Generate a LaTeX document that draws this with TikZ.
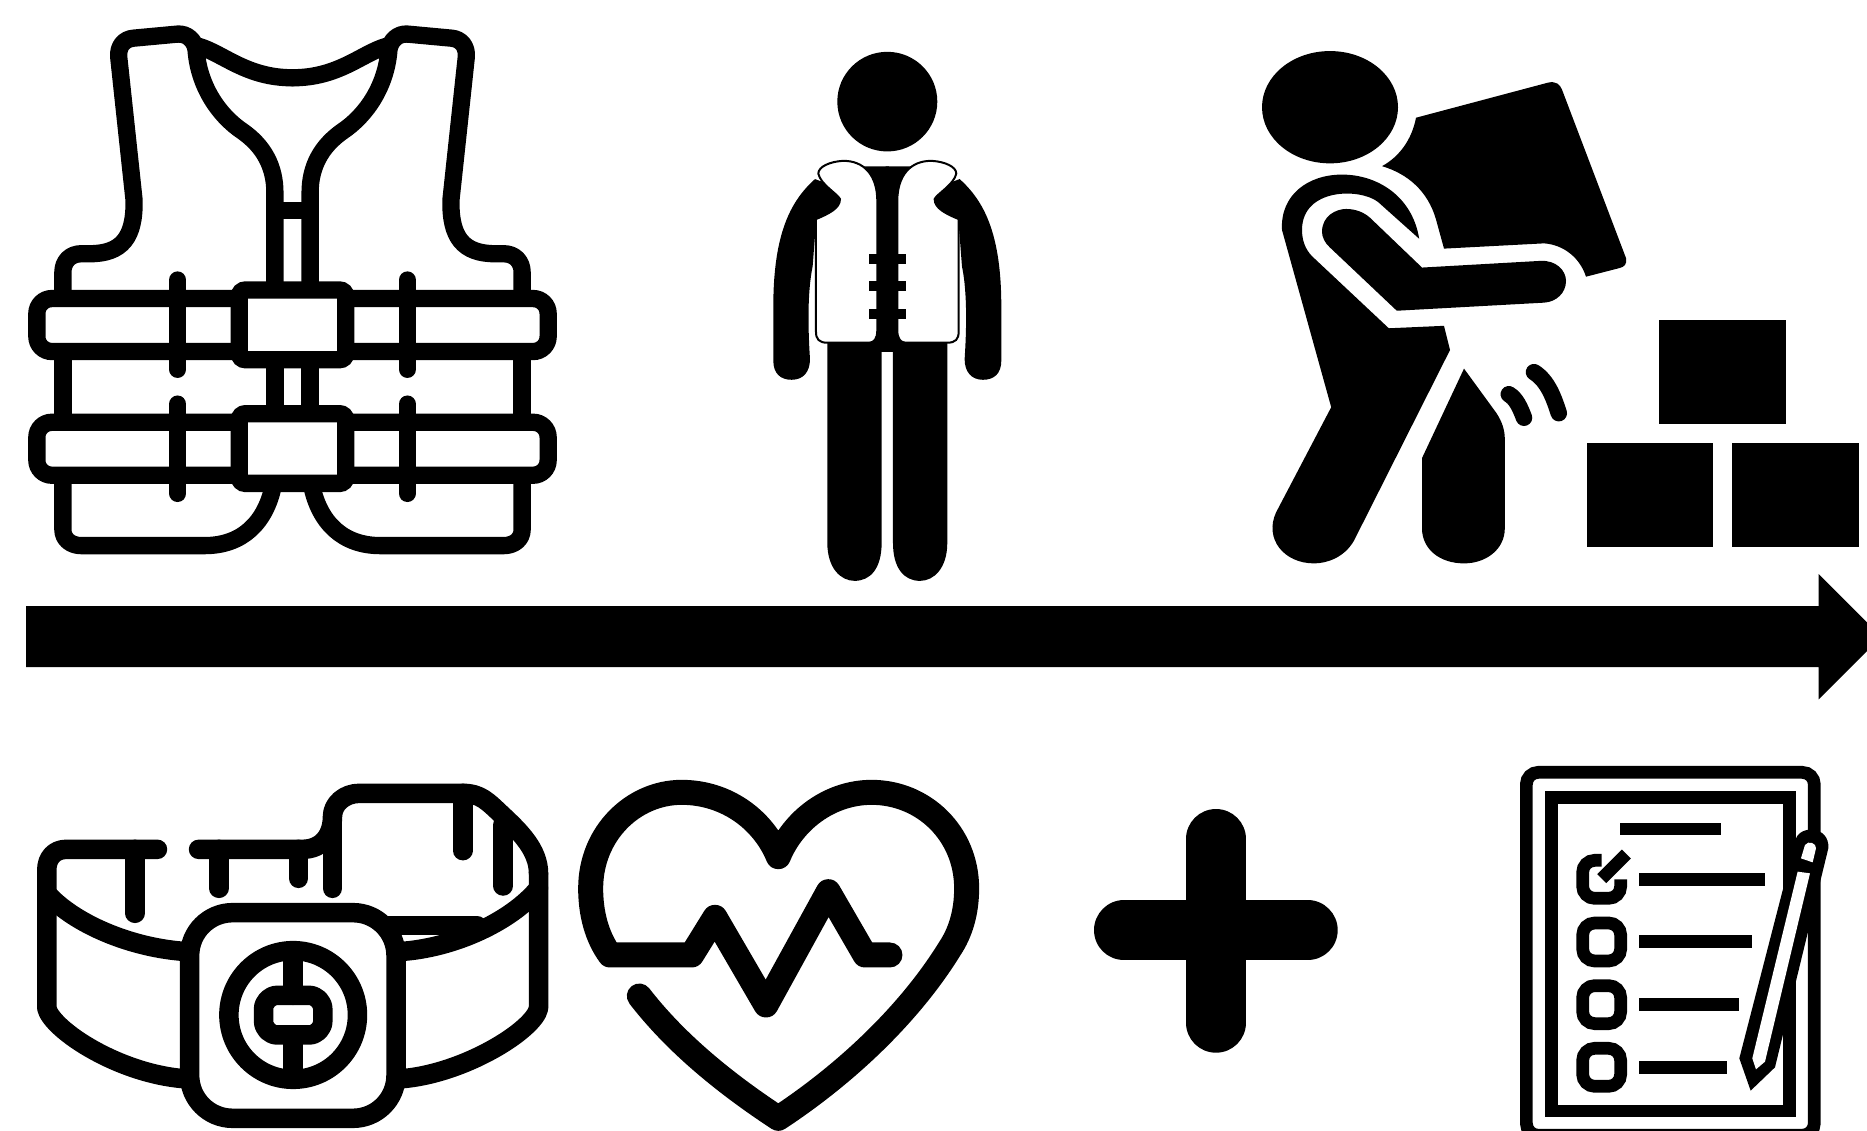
\documentclass[tikz,border=0pt]{standalone}
\usepackage{tikz}

\begin{document}
\begin{tikzpicture}[
    x=1pt, y=-1pt,
    vestline/.style={draw, line width=17.3pt, line join=round, line cap=round},
    vestband/.style={draw, fill=white, line width=17.3pt, rounded corners=15pt},
    vestclip/.style={draw, fill=white, line width=17.3pt, rounded corners=6pt},
    bandline/.style={draw, line width=19.5pt, line join=round, line cap=round},
    heartline/.style={draw, line width=25pt, line join=round, line cap=round},
    plusline/.style={draw, line width=60pt, line cap=round},
    listbox/.style={draw, line width=12.7pt, rounded corners=12pt},
    panel/.style={draw, fill=white, line width=2pt}
]
\path [use as bounding box, clip] (0,0) rectangle (1867,1130);

% Life vest
\begin{scope}[shift={(292.5,0)}, x=0.3827pt, y=-0.3704pt]
\foreach \m in {1,-1} {
\begin{scope}[xscale=\m]
\path [vestline] (-600,805) -- (-600,735) .. controls (-600,705) and (-580,685) .. (-552,685) -- (-530,685)
    .. controls (-445,685) and (-412,640) .. (-414,540) -- (-454,155)
    .. controls (-457,125) and (-440,105) .. (-415,103) -- (-300,92)
    .. controls (-275,90) and (-255,110) .. (-252,135)
    .. controls (-245,230) and (-195,310) .. (-130,355)
    .. controls (-75,395) and (-46,450) .. (-46,520) -- (-46,780);
\path [vestline] (-245,125) .. controls (-180,145) and (-120,210) .. (0,210);
\path [vestline] (-600,949) -- (-600,1140);
\path [vestline] (-46,971) -- (-46,1117);
\path [vestline] (-600,1283) -- (-600,1430) .. controls (-600,1455) and (-580,1473) .. (-552,1473) -- (-230,1473)
    .. controls (-130,1473) and (-70,1410) .. (-50,1310);
\end{scope}
}
\path [draw, line width=17.3pt] (-46,568) -- (46,568);
\foreach \y in {806,1140} {
    \path [vestband] (-668,\y) rectangle (668,\y+143);
}
\foreach \m in {1,-1} {
    \path [vestline] (\m*300,756) -- (\m*300,997);
    \path [vestline] (\m*300,1091) -- (\m*300,1332);
}
\path [vestclip] (-139,783) rectangle (139,971);
\path [vestclip] (-139,1117) rectangle (139,1305);
\end{scope}

% Person wearing the vest
\begin{scope}[shift={(887.3,30)}, x=0.3333pt, y=-0.3636pt]
\fill (0,197) ellipse [x radius=150, y radius=137];
\foreach \m in {1,-1} {
\begin{scope}[xscale=\m]
\fill (-217,410) .. controls (-290,470) and (-342,560) .. (-342,760) -- (-342,910)
    .. controls (-342,945) and (-320,962) .. (-287,962)
    .. controls (-252,962) and (-232,940) .. (-232,905)
    .. controls (-238,820) and (-240,720) .. (-224,650) -- (-214,530) -- (-130,500) -- (-130,440) -- cycle;
\fill (-180,865) -- (-180,1410) .. controls (-180,1480) and (-140,1515) .. (-98,1515)
    .. controls (-50,1515) and (-17,1480) .. (-17,1410) -- (-17,885) -- (5,885) -- (5,375) -- (-180,375) -- cycle;
\path [panel] (-207,395) .. controls (-207,375) and (-170,362) .. (-135,360)
    .. controls (-70,358) and (-30,400) .. (-30,470) -- (-30,825)
    .. controls (-30,850) and (-40,860) .. (-55,860) -- (-180,860)
    .. controls (-205,860) and (-214,850) .. (-214,830) -- (-214,520)
    .. controls (-175,505) and (-142,490) .. (-142,465)
    .. controls (-150,450) and (-200,425) .. (-207,395) -- cycle;
\foreach \y in {616,691,766} {
    \fill (-56,\y) rectangle (5,\y+28);
}
\end{scope}
}
\end{scope}

% Worker with boxes
\begin{scope}[shift={(1240,30)}, x=0.4pt, y=-0.3509pt]
\fill (225,220) ellipse [x radius=170, y radius=160];
\fill (440,250) -- (770,150) .. controls (790,145) and (800,155) .. (805,170) -- (965,650)
    .. controls (968,668) and (960,675) .. (950,678) -- (865,703)
    .. controls (850,650) and (810,612) .. (760,608) -- (510,623) -- (490,540)
    .. controls (470,460) and (420,410) .. (355,388)
    .. controls (400,360) and (430,310) .. (440,250) -- cycle;
\fill (105,570) .. controls (100,470) and (170,412) .. (255,412)
    .. controls (340,412) and (430,470) .. (448,595) -- (345,490)
    .. controls (300,450) and (155,450) .. (155,570)
    .. controls (155,610) and (170,635) .. (185,650) -- (372,850) -- (510,843) -- (525,912) -- (285,1455)
    .. controls (260,1505) and (215,1520) .. (185,1520)
    .. controls (110,1520) and (60,1450) .. (90,1375) -- (228,1075) -- cycle;
\fill (205,575) .. controls (205,530) and (240,510) .. (265,510)
    .. controls (290,510) and (310,520) .. (325,535) -- (455,677) -- (750,658)
    .. controls (790,655) and (815,685) .. (815,715)
    .. controls (815,750) and (790,775) .. (760,777) -- (392,800) -- (225,620)
    .. controls (212,607) and (205,590) .. (205,575) -- cycle;
\fill (560,965) -- (640,1090) .. controls (655,1115) and (662,1140) .. (662,1165) -- (662,1420)
    .. controls (662,1480) and (615,1520) .. (560,1520)
    .. controls (500,1520) and (455,1480) .. (455,1420) -- (455,1220) -- cycle;
\draw [line width=16.5pt, line cap=round] (672,1038) .. controls (690,1050) and (700,1075) .. (710,1105);
\draw [line width=16.5pt, line cap=round] (735,975) .. controls (770,1000) and (785,1050) .. (797,1092);
\fill (1048,825) rectangle (1364,1122);
\fill (868,1176) rectangle (1182,1474);
\fill (1231,1176) rectangle (1547,1474);
\end{scope}

% Long arrow
\fill (26,606) -- (1818.7,606) -- (1818.7,574) -- (1881.4,636.7) -- (1818.7,699.3) -- (1818.7,667) -- (26,667) -- cycle;

% Wrist band
\begin{scope}[shift={(20,760)}, x=0.3571pt, y=-0.3333pt]
\path [bandline] (385,268) -- (130,268) .. controls (95,268) and (75,295) .. (75,330) -- (75,745)
    .. controls (90,810) and (280,945) .. (470,957);
\path [bandline] (75,400) .. controls (150,490) and (310,565) .. (470,575);
\path [bandline] (1452,340) -- (1452,745) .. controls (1440,810) and (1240,945) .. (1060,957);
\path [bandline] (1452,385) .. controls (1380,480) and (1220,565) .. (1060,575);
\path [bandline] (1000,497) -- (1280,497);
\path [bandline] (500,268) -- (790,268) .. controls (850,268) and (875,220) .. (875,170)
    .. controls (875,130) and (910,100) .. (950,100) -- (1240,100)
    .. controls (1290,100) and (1310,125) .. (1350,165)
    .. controls (1400,215) and (1452,270) .. (1452,340);
\path [bandline] (322,268) -- (322,460);
\path [bandline] (557,268) -- (557,385);
\path [bandline] (780,268) -- (780,355);
\path [bandline] (875,170) -- (875,385);
\path [bandline] (1240,100) -- (1240,272);
\path [bandline] (1353,195) -- (1353,378);
\path [bandline, fill=white, rounded corners=43pt] (475,458) rectangle (1053,1075);
\path [bandline] (765,765) ellipse [x radius=180, y radius=193];
\path [bandline] (765,590) -- (765,706);
\path [bandline] (765,825) -- (765,935);
\path [bandline, rounded corners=14pt] (682,706) rectangle (848,825);
\end{scope}

% Heart with pulse
\begin{scope}[shift={(570,760)}, x=0.3333pt, y=-0.3333pt]
\path [heartline] (960,585) -- (885,585) -- (775,395) -- (588,735) -- (435,472) -- (365,585) -- (120,585)
    .. controls (80,530) and (62,460) .. (62,385)
    .. controls (62,220) and (190,97) .. (335,97)
    .. controls (470,97) and (580,180) .. (625,290)
    .. controls (670,180) and (780,97) .. (905,97)
    .. controls (1060,97) and (1190,220) .. (1190,385)
    .. controls (1190,460) and (1170,520) .. (1140,565)
    .. controls (1020,760) and (830,940) .. (625,1075)
    .. controls (450,960) and (310,840) .. (208,708);
\end{scope}

% Plus sign
\path [plusline] (1216,839) -- (1216,1022.7);
\path [plusline] (1124,930.3) -- (1307.7,930.3);

% Checklist
\begin{scope}[shift={(1500,750)}, x=0.3333pt, y=-0.3333pt]
\path [listbox] (79,67) rectangle (943,1156);
\draw [line width=12.7pt] (154,143) rectangle (869,1083);
\fill (360,218) rectangle (662,256);
\fill (417,368) rectangle (794,407);
\fill (417,556) rectangle (756,595);
\fill (417,744) rectangle (718,783);
\fill (417,932) rectangle (681,971);
\path [listbox] (305,331) -- (248,331) -- (248,445) -- (362,445) -- (362,388);
\draw [line width=12.7pt] (305,386) -- (379,312);
\foreach \y in {519,707,895} {
    \path [listbox] (248,\y) rectangle (362,\y+114);
}
\fill (752,1022) -- (718,925) -- (887,270) .. controls (895,225) and (990,225) .. (985,295) -- (825,952) -- cycle;
\fill [white] (757,925) -- (768,958) -- (795,935) -- (930,370) -- (893,365) -- cycle;
\fill [white] (903,325) -- (915,285) .. controls (925,270) and (950,280) .. (948,295) -- (938,337) -- cycle;
\end{scope}
\end{tikzpicture}
\end{document}
